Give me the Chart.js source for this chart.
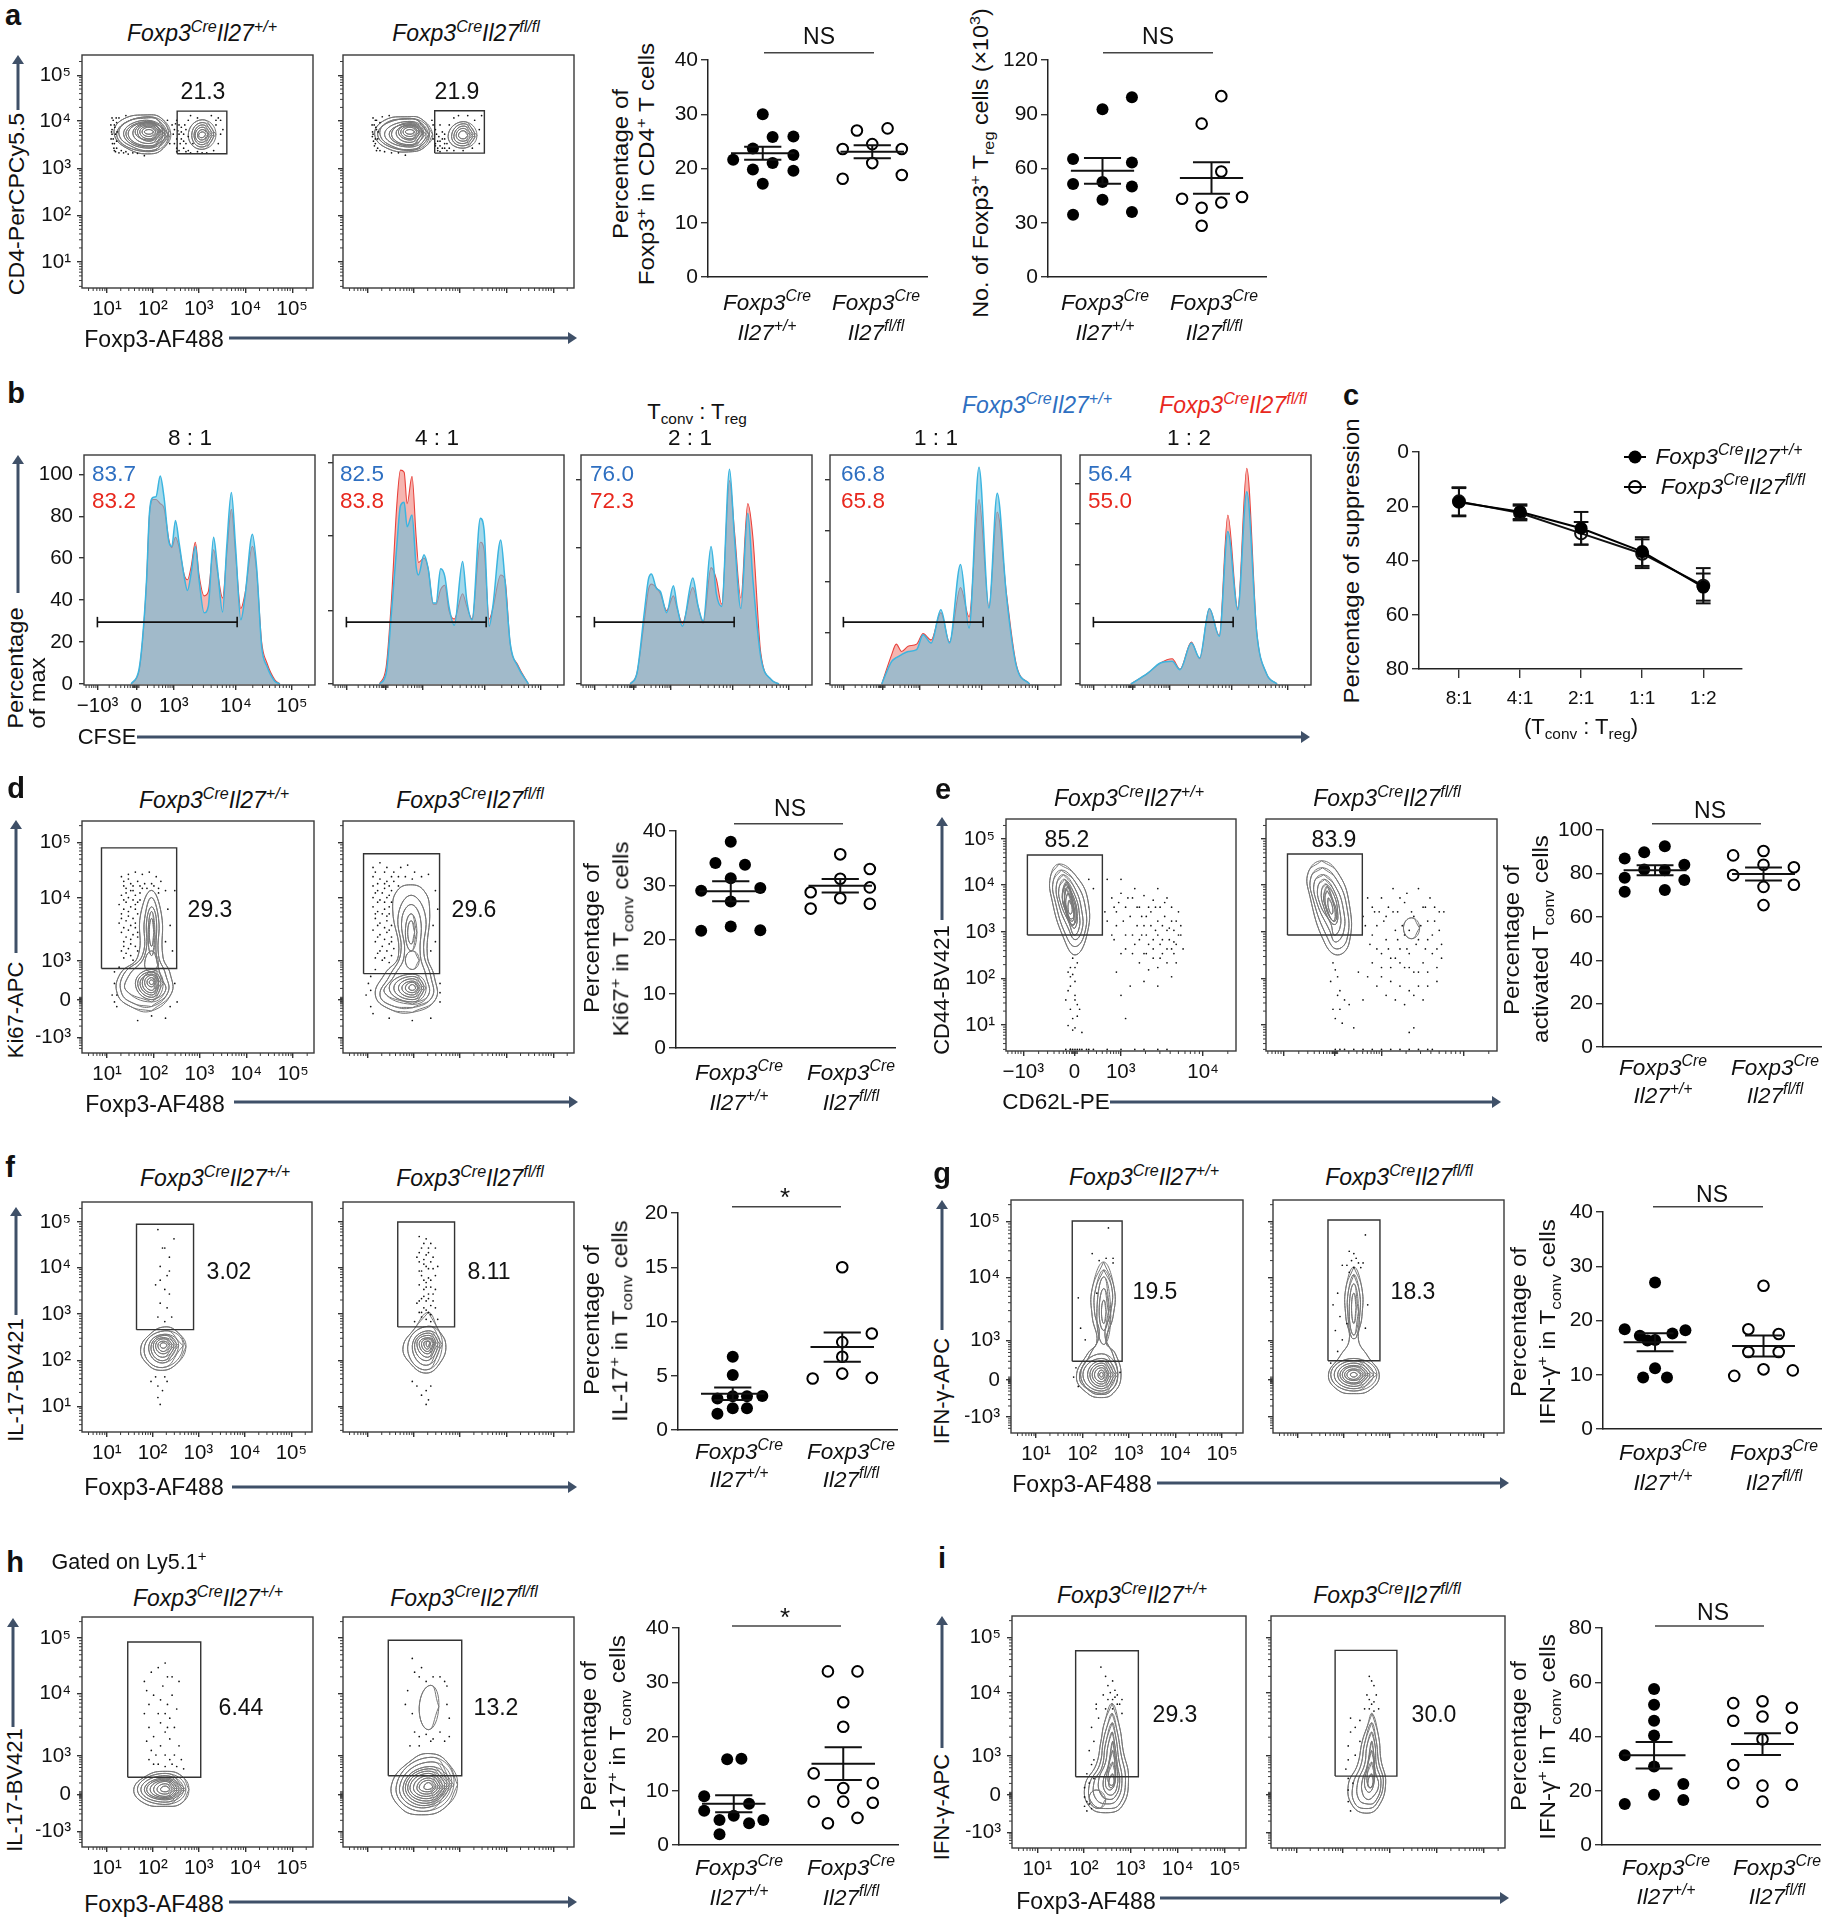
<!DOCTYPE html>
<html>
<head>
<meta charset="utf-8">
<script src="https://cdn.jsdelivr.net/npm/chart.js@4"></script>
<style>
html,body{margin:0;background:#fff}
#page{position:relative;width:1827px;height:1920px;overflow:hidden;font-family:"Liberation Sans",Arial,sans-serif;color:#111}
canvas{position:absolute}
svg{position:absolute;left:0;top:0}
.t{position:absolute;white-space:nowrap;line-height:1}
sup,sub{font-size:.7em;line-height:0}
</style>
</head>
<body>
<div id="page"></div>
<script>
// ---- axis channels (flow plots are read in display channels 0-100)
const xLogCh = [10.8,30.7,50.6,70.8,91]
const xLogLab = ['10¹','10²','10³','10⁴','10⁵']
const yLogCh = [11.2,31.2,51.3,71.6,91.3]
const yLogLab = ['10¹','10²','10³','10⁴','10⁵']
const yBiexCh = [6.8,22.8,39.6,66.8,90.8]
const yBiexLab = ['−10³','0','10³','10⁴','10⁵']
const xCd62Ch = [7.5,29.8,49.9,85.7]
const xCd62Lab = ['−10³','0','10³','10⁴']
const xCfseCh = [5.9,22.6,38.9,65.8,90]
const xCfseLab = ['−10³','0','10³','10⁴','10⁵']
const minorSteps = [6,9.5,12,14,15.6,16.9,18,19.1]

// ---- a
const aPctTicks = [0,10,20,30,40]
const aPctWtY = [30,25.8,25.9,23.7,22.5,21.6,21,19.8,19.6,17.2]
const aPctWtX = [0,.09,.28,-.09,.28,-.27,.09,-.09,.28,0]
const aPctKoY = [27,27.4,23.6,24.5,23.6,21,18.8,18.1]
const aPctKoX = [-.14,.14,-.27,0,.27,0,.27,-.27]
const aPctMean = [22.8,23.1]
const aPctSem = [1.2,1.2]
const aNumTicks = [0,30,60,90,120]
const aNumWtY = [99.4,92.8,65.2,63.3,51.4,52.5,50,42.7,34.4,35.9]
const aNumWtX = [.27,0,-.27,.27,-.27,0,.27,0,-.27,.27]
const aNumKoY = [100,84.8,58.3,43.3,44.2,41.2,38.3,28.3]
const aNumKoX = [.09,-.09,.09,-.27,.28,.09,-.09,-.09]
const aNumMean = [58.7,54.8]
const aNumSem = [7.1,8.7]
const a1Gate = [41.2,62.7,57.6,75.9]
const a2Gate = [39.7,61.2,57.9,76.1]
const a1Rings = [
 [38.4,66.4,34.3,72.9,28.5,74.3,17.7,72.4,13.9,66.4,19.4,60,30.1,57.6,35.9,60.7],
 [37,66,33,72,28,73,19,71,16,66,21,61,30,59,35,62],
 [36,66,28,72,18,66,29,60],[36,66,28,71,20,66,29,61],[35,67,29,71,22,66.5,29,62],[34,67,29,70,24,67,29,63],
 [33,67,29,69.5,25,67,29,64],[32,67,29,69,26,67,29,65],[31,67,29,68,27,67,29,66],
 [37.5,66,29,73.5,15,66,29,58.5],[35,66.5,28.5,71.5,19,66,29.5,60.5],[33.5,67,29,70.5,23,67,29,63.5],
 [58,66,52,72.2,46,65.5,52,59.5],[57,66,52,71,47.5,65.5,52,60.5],[56,66,52,70,48.5,65.5,52,61.5],
 [55,66,52,69,49,65.5,52,62.5],[54.5,66,52,68,50,65.5,52,63.5],[53.5,66,52,67,50.5,65.5,52,64.5]
]
const a2Rings = [
 [38.8,66,34,72.5,28,73.5,18,72,13.7,66,19,60,30,58.5,36,61],
 [37,66,33,71.5,28,72.5,19,71,16,66,21,61,30,59.5,35,62],
 [36,66,29,71.5,18,66,29,60.5],[35,66.5,29,71,21,66,29,61.5],[34,67,29,70,23,66.5,29,62.5],
 [33,67,29,69.5,25,67,29,64],[32,67,29,69,26,67,29,65],[31,67,29,68,27,67,29,66],
 [37.5,66,29,72.8,15,66,29,59],[34.5,66.5,29,70.5,20,66,29,61],[33,67,29,70,24,67,29,63.5],
 [58,65.5,52,71.4,45.5,65,52,60],[57,65.5,52,70.5,47,65,52,61],[56,65.5,52,69.5,48,65,52,62],
 [55,65.5,52,68.5,49,65.5,52,63],[54,65.5,52,67.5,50,65.5,52,64]
]
const a1Dots = [13.5,72,14,70,13,68,14.5,66,13.5,64,14,62,15,60,14,59,16,58,18,58,20,57.5,22,58,13,66,15,71,16,73,19,74,39,70,40,68,39.5,66,41,64,40,62,41,60,42,70,43,67,44,63,45,68,44,60,46,72,47,74,48,62,45,58.5,50,73,56,74,58,70,60,66,59,62,57,59,54,58,60,72,38,62,37,72,13,73,12.5,70,12.8,67,13.2,62,12.6,64,13.8,60,14.5,58.5,15,63,14.2,69,15.2,67,14.8,73,17,59,19,58.5,24,57.8,27,56.8,41,72,42,66,42.5,62,43,69,44,66,45,62,42,59,46,65,40.5,70.5,41.5,67.5,43,64,44.5,70,46,59,47,58,50,58.5,52,58,58,72,59,73,61,68,41,58.5]
const a2Dots = [14,72,13.5,70,14.5,68,13,66,14,64,14,62,15,60,16,59,18,58.5,21,58,14.5,72,17,73.5,20,74,38.5,72,39,70,40,68,39,64,40,62,41,60,42,58.5,42,70,43,67,41.5,65,44,62,43,60,45,59,44,64,46,70,48,73,50,74,54,74,57,72,59,68,59,62,56,60,52,59,48,59,60,74,46,60,13,73,12.6,70,12.8,67,13.2,63,12.7,65,13.6,61,14.5,59,15,64,14.2,69,15.2,67,16,71,24,58,27,57,40.5,66,41,63,42,61,43,64,44,66,42,63,40,61,41,59,44,60,45,62]

// ---- b
const b1X = [20.4,23.8,25.3,27.1,28.3,29.9,31.2,33,34.6,36.7,38,39.6,41.2,43.4,44.8,46.4,48.2,49.8,52,53.8,56.1,57.7,60,61.8,63.8,65.6,67.9,69.7,72.9,74.7,76.9,79.2,82.6,84.8]
const b1Blue = [0,6.8,21,50,81,89,89.4,99.2,89.4,68,65.6,78,67,51,44.6,53,65.6,49.7,34,37,70,56,34.3,65.6,91.3,65.6,30.6,41.7,71.4,56,18,8.4,1.3,0]
const b1Red = [0,6,20,49,80,88,88,86,84,69,65,70,65,52,49.7,56,67.6,52,42,44,64,54,41,62,83.3,62,36,43,65.6,54,20,10,2,0]
const b2X = [20.1,23,25.3,27.6,29.2,30.8,32.1,34.2,36,37,39.4,41.2,43.4,44.6,46.6,48.4,50.2,52.5,56.1,57.9,60.2,63.8,65.4,67.6,69.2,72.6,74.4,76.7,80,84.6]
const b2Blue = [0,5,34,65.6,85,86.7,75,80.6,56,52,61.6,55,38.6,38.6,55,51.3,37,28,58.4,40,30.6,79,73.5,27.5,37,68.7,50,19.5,8.4,0]
const b2Red = [0,8,40,85,102,101,86,99,70,58,60,55,38,38,45,47,35,31,43,37,31,67.6,64,31,36,52,50,19,9,0]
const b3X = [21.3,24.2,27.4,29.2,30.5,32.6,34.4,37.1,40,41.6,43.9,48.4,50.7,52.9,56.3,58.6,60.9,64.3,66.5,69.2,72.2,74.4,77.8,82.4,85.7]
const b3Blue = [0,5,34,50,52.5,45.7,44,34,46.8,37,27.5,50.5,37,30,65.6,43,37,102.4,68.7,36,81.4,50,13,2,0]
const b3Red = [0,5,30,45,47.6,46,43,35,42,36,29,46,37,29,55.5,50,38,97,72,41,86,70,15,2,0]
const b4X = [22.4,26.7,28.7,31,33.8,37.5,40.3,43.8,48,51.7,56.5,60.2,64.5,68.8,72.4,76.4,80.7,86.4]
const b4Blue = [0,10.8,12.5,14,15.5,16.4,23.5,19.5,35.4,19.5,57,26.7,103.3,36.2,91,41.7,8.4,0]
const b4Red = [0,14,19,15.5,18,19,24,21,34,20,46,32,88,37,82,43,9,0]
const b5X = [22,29.2,34.8,39.9,43.3,48.2,51.8,56,60.3,64,68.3,72.2,76.5,80.7,85.3]
const b5Blue = [0,5,10,10.8,6.8,19.5,12.4,36,22.7,72.7,35.4,91.7,24.3,5,0]
const b5Red = [0,5,10,12,7,20,12,36,23,80.6,36,102.8,25,5,0]
const b1Ticks = [0,20,40,60,80,100]
const b2Ticks = [0,35,70.6,105.6]
const b3Ticks = [0,32,65,97.3]
const b4Ticks = [0,24.6,48.7,73,97.6]
const b5Ticks = [0,19,38.3,57,76.3,95.4]
const bGate = [5.8,66.3,29.5]

// ---- c
const cLabels = ['8:1','4:1','2:1','1:1','1:2']
const cTicks = [0,20,40,60,80]
const cWtY = [18.5,22,28.1,36.7,49.8]
const cWtSem = [5.2,2.7,6,5.3,5]
const cKoY = [18.2,22.5,30,37.5,49.3]
const cKoSem = [5.2,2.7,4.2,5.3,6.5]

// ---- d
const dTicks = [0,10,20,30,40]
const dWtY = [38,34.1,33.8,31.3,29,29.5,27,22.4,21.6,21.7]
const dWtX = [0,-.14,.13,0,-.27,.27,0,0,-.27,.27]
const dKoY = [35.7,33,31.2,29.6,28.7,27.6,26.6,25.7]
const dKoX = [0,.27,0,.27,-.27,0,.27,-.27]
const dMean = [28.9,29.9]
const dSem = [1.85,1.25]
const d1Gate = [8.4,40.8,36.4,88.4]
const d2Gate = [8.9,41.8,34.2,85.9]
const d1Rings = [
 [29.9,18.1,38.5,25.6,38,34.2,34.9,41.4,34.2,60,29.9,70.1,25.3,60,24,41.4,16.5,34.2,15.2,25.6,21,20],
 [29.9,20,37,26,36,34,33,42,33,58,29.9,67,27,58,26,42,18,34,17,26,22,21.5],
 [30,22,36,27,34,33,32,42,32,58,30,63,28,58,27,42,20,33,19,27],
 [31.5,50,30,61,28.5,50,30,42],[31,52,30,58,29,52,30,46],[33,38,30,44,27,38,30,35],
 [35,30,30,36,23,30,30,23],[34,30,30,35,24,30,30,24],[33,30,30,34,25,30,30,25],[33,30.5,30,35,26,30,30,26],
 [32,30.5,30,33.5,27,30.5,30,27],[31.5,30.5,30,32.5,28,30.5,30,28.5],[31,30.5,30,31.5,29,30.5,30,29.5]
]
const d2Rings = [
 [30,17.5,40,23,39.5,33,36.5,42,37.5,62,35,70,29.3,72.5,23.5,70,21.5,62,24,42,18,34,14,25,20,19],
 [30,19.5,38.5,24,38,33,35,43,35.5,60,29.5,68,24,60,25,43,20,33,16,25,21,20.5],
 [30,21,37,25,36,33,33.5,42,33.5,58,29.5,64,25.5,58,26.5,42,22,33,18,26],
 [32,52,29.5,60,27,52,29.5,44],[31,52,29.5,57,28,52,29.5,47],[33,40,30,44,27,40,30,36],
 [36,28,30,34,20,28,30,22],[35,28,30,33,22,28,30,23],[34,28,30,32,24,28,30,24],[33,28,30,31,25.5,28,30,25],
 [32.5,28,30,30.5,27,28,30,26],[31.5,28,30,29.5,28.5,28,30,27]
]
const d1Dots = [17,76,20,77,23,78,26,77,29,78,32,76,34,74,18,72,21,73,24,74,27,73,31,72,33,71,36,70,17,68,19,69,22,70,25,69,16,64,19,65,22,66,24,65,17,60,20,61,23,62,16,56,19,57,22,58,17,52,20,53,23,54,18,48,21,49,24,50,17,44,20,45,23,46,18,41,21,42,37,62,38,55,36,48,40,70,39,44,14,30,13,25,15,20,24,14,30,16,36,15,41,22,40,30,18,74,20,75,22,72,25,72,28,71,30,73,33,69,19,71,21,70,23,68,26,71,18,66,20,67,23,64,25,66,18,62,21,63,24,60,17,58,20,59,23,56,18,54,21,55,24,52,19,50,22,51,18,46,21,47,24,44,19,43,22,40,15,25,14,35,16,37,14,22,38,20]
const d2Dots = [13,80,16,82,19,80,22,78,25,80,28,81,31,78,34,76,37,77,13,76,16,75,19,74,22,74,24,72,13,72,15,70,18,71,21,70,13,67,16,66,19,67,21,65,13,63,15,61,18,62,20,60,14,58,16,56,19,57,21,55,13,53,16,51,19,52,21,50,14,48,17,46,20,47,22,45,15,43,18,41,21,42,40,70,41,62,39,55,40,48,38,44,11,30,10,25,12,20,20,15,30,14,38,15,42,22,42,30,14,78,18,78,21,76,24,76,27,76,30,75,15,73,18,73,20,72,14,69,17,69,20,68,15,65,18,65,20,63,14,60,17,60,19,59,15,55,18,54,20,53,15,50,18,49,21,48,16,44,19,44,14,41,17,40,20,39,12,27,12,33,14,36,13,17,42,26]

// ---- e
const eTicks = [0,20,40,60,80,100]
const eWtY = [92.5,89.7,86.9,84,81.8,81.5,78,77,72.3,71.5]
const eWtX = [.09,-.1,-.28,.27,-.1,.09,-.28,.27,.09,-.28]
const eKoY = [90.3,88.3,82.8,84,79.2,73.8,74.8,65.4]
const eKoX = [0,-.28,.28,0,-.28,0,.28,0]
const eMean = [81.5,79.7]
const eSem = [2.3,3]
const e1Gate = [9.3,41.9,50,84.5]
const e2Gate = [9.3,41.7,50,84.9]
const e1Rings = [
 [23,80.6,30,76,35.6,65,35,49.3,30,41.4,24.8,49.3,20,65,19.3,75],
 [24,78,30,73,34.5,62,34,50,30,45,26,50,21.5,64,20.5,73],
 [25,76,30,70,33,60,33,52,30,48,27,53,23,63,22,72],
 [25.5,74,30,67,32,58,31.5,52,29.5,50,27.5,55,24,63,23,70],
 [26,72,29.5,66,31,58,30,53,28.5,54,26,60,24.5,66],
 [26,70,29,64,30,57,29,54,27,58,25.5,64],
 [27,68,29,62,29.5,58,28,57,26.5,61,26,65],
 [27.5,65,28.8,61,28,59,27,61],
 [26.5,73,29,66,30.5,60,30,55,28,55,25.5,62,24.5,68],
 [27,71,28.8,65,29.5,60,29,56,27.5,57,26,62,25.5,67]
]
const e2Rings = [
 [24.1,82,31,77,36,63.7,36,46.6,31,41.4,25.4,46.6,19,66.7,18.3,77],
 [24.5,79,30.5,74,35,62,35,48,30.5,44,26.5,49,20.5,65,19.5,75],
 [25,76,30,71,33.5,61,33.5,51,30,47,27.5,52,22,64,21,73],
 [25.5,74,29.5,69,32,60,32,53,29.5,50,28,55,23.5,63,22.5,71],
 [26,72,29.5,67,31,60,30.5,55,28.5,55,25,62,24,69],
 [26.5,69,29,64,30,58,29,56,26.5,61,25.5,66],
 [27,66,28.8,62,28.5,59,27,62],
 [26.5,71,29,65,30.5,60,30,56,28,57,25.5,63,25,67],
 [66.5,53,63,57.4,59.5,53,63,48.4]
]
const e1Dots = [46,66,48,60,50,68,52,62,54,58,55,66,56,70,57,54,58,62,59,50,60,67,61,58,62,46,63,60,64,65,65,52,66,70,66,56,67,62,68,48,69,58,70,66,71,53,72,62,73,47,74,56,75,60,76,50,77,44,72,44,68,42,64,40,60,42,56,46,52,50,48,54,47,48,58,38,62,35,66,36,70,38,74,38,66,28,60,30,54,28,50,24,48,34,72,32,44,74,50,74,38,70,36,74,28,36,29,33,30,30,31,38,27,34,28,28,30,24,31,20,28,18,29,14,27,11,52,14,30,10,33,8,26,.7,28,.7,29,.7,31,.7,33,.7,38,.7,44,.7,50,.7,56,.7,60,.7,66,.7,70,.7,47,62,49,64,51,56,53,66,55,50,57,62,59,58,60,54,61,50,62,62,63,54,64,48,65,62,66,50,67,46,68,54,69,64,70,52,71,48,72,56,73,52,74,46,75,50,76,54,52,44,55,42,58,48,61,42,64,44,67,40,70,44,73,42,50,42,46,50,44,56,43,60,29,40,30,36,28,32,27,26,26,22,32,18,30,22,31,15,29,9,28,.7,30,.7,32,.7,35,.7,36,.7]
const e2Dots = [42,58,44,66,46,50,47,60,48,44,50,66,51,56,52,48,53,62,54,40,55,70,56,52,57,60,58,44,58,66,60,36,60,50,61,68,62,42,63,60,64,34,65,46,66,70,67,54,68,38,69,62,70,48,71,66,72,42,73,56,74,36,75,52,76,46,77,60,54,30,58,28,62,26,66,28,50,32,46,38,70,28,74,30,29,38,30,35,31,32,28,30,32,26,34,22,42,22,29,18,30,14,36,20,38,10,64,10,62,8,30,.7,32,.7,34,.7,38,.7,42,.7,46,.7,50,.7,54,.7,58,.7,62,.7,66,.7,70,.7,72,.7,43,54,45,46,46,62,48,54,49,60,50,42,52,58,53,44,55,60,56,40,57,48,59,54,60,64,61,44,62,52,64,58,66,48,68,62,69,44,70,56,72,50,73,62,74,44,75,60,76,40,50,36,54,36,58,38,62,36,66,34,70,34,40,34,44,32,48,28,52,24,56,22,60,20,64,24,68,22,31,24,32,18,33,12]

// ---- f
const fTicks = [0,5,10,15,20]
const fWtY = [6.75,5.06,3.13,3.1,2.9,3.1,2,2,1.5]
const fWtX = [0,0,.27,.13,-.14,0,0,.13,-.14]
const fKoY = [15,8.9,8.1,6.75,4.75,5.2,4.8]
const fKoX = [0,.27,0,0,-.27,0,.27]
const fMean = [3.34,7.64]
const fSem = [.57,1.35]
const f1Gate = [23.7,48.5,44.5,90.3]
const f2Gate = [23.7,48.3,45.7,91.3]
const f1Rings = [
 [45.2,37,42,43,36,45.7,29,42,25.5,36,28,30,34,26.8,41,29.5],
 [44,37.5,36,44,27,36,35,28],[42,37.5,36,42.5,29,37,35,30],[41,37.5,36,42,30,37,35,31],[40,37.5,35.5,41,31,37.5,35,32.5],
 [39,37.5,35.5,40.5,32,37.5,35.3,34],[38,37.7,35.4,39.5,33,37.7,35.3,35],[37,37.7,35.3,38.8,34,37.7,35.3,36.4]
]
const f2Rings = [
 [36.9,52,41,45,44.5,38,42,30,36,25.6,29,30,26,37,31,45],
 [43,38,37,46,28,37,36,27],[42,38,37,44,30,37.5,36,29],[41,38,37,43,31,38,36,31],[40,38.5,37,42,32,38.5,36.5,32.5],
 [39.5,38.5,37,41,33,38.5,36.5,34],[39,38.5,37,40.5,34,38.5,36.5,35],[38,38.7,37,39.5,35,38.7,36.5,36],[37.5,38.7,36.8,39.5,36,38.7,36.6,37]
]
const f1Dots = [33,88,40,84,36,80,38,76,34,72,37,68,32,64,36,62,38,60,34,56,37,54,33,50,36,48,39,50,35,80,34,66,38,70,30,22,33,20,35,18,33,15,34,12,32,24,36,24,37,22]
const f2Dots = [33,85,36,84,38,82,34,80,37,78,40,80,32,76,35,75,38,74,36,72,33,70,39,71,41,72,34,68,37,67,40,68,36,65,33,64,38,63,35,62,37,60,34,58,39,60,36,57,32,56,38,55,35,54,37,52,33,52,40,54,34,50,36,49,38,48,31,48,41,49,32,20,30,22,34,16,36,18,37,14,38,20,36,12,35,82,37,80,33,78,36,77,39,76,35,73,37,71,34,70,38,66,35,66,36,63,37,58,35,59,33,57,36,53,38,51,34,52,39,57,40,62,33,74]

// ---- g
const gTicks = [0,10,20,30,40]
const gWtY = [27,18.4,18.2,17.2,17.6,16.4,16.3,11.2,9.5,9.5]
const gWtX = [0,-.28,.28,-.14,.16,0,-.07,0,-.11,.11]
const gKoY = [26.4,18.4,17.5,14.2,14.2,11,9.8,10.8]
const gKoX = [0,-.14,.14,-.14,.14,0,-.27,.27]
const gMean = [16,15.3]
const gSem = [1.65,1.95]
const g1Gate = [26.4,47.9,30.8,91]
const g2Gate = [23.8,46.3,31,91.4]
const g1Rings = [
 [39.9,73.4,44.5,62,44,50,41,39,45,34,47.4,24,44,17,39,15.2,33,17,28.2,24,33,34,37,39,35,50,35,62],
 [40,70,43.5,62,43,52,40.5,42,44,33.5,46,24,43,18,39,16.5,34,18,29.5,24,34,33.5,38,42,36,52,36.5,62],
 [43,50,40,67,37,50,40,38],[42,52,40,62,38,52,40,44],[41,52,40,57,39,52,40,47],
 [46,25,39,34,30,25,39,17],[45,25,39,32,31,25,39,18],[44,25,39,31,33,25,39,19],[43,25,39,30,34,25,39,20],
 [42,25,39,29,35,25,39,21],[41.5,25,39,28,36,25,39,22],[40.5,25,39,27,37.5,25,39,23],[39.8,25,39,26,38.2,25,39,24]
]
const g2Rings = [
 [35,71.3,38.5,62,38.5,50,37,40,41,33,46,25,42,18.5,35,16.9,28,18.5,24,25,29,33,33,40,31.5,50,31.5,62],
 [35,68,37.5,60,37.5,50,36,41,34,41,32.5,50,32.5,60],
 [37,52,35,64,33,52,35,42],[36,54,35,60,34,54,35,47],
 [45,25,35,32,25,25,35,18],[43.5,25,35,31,26.5,25,35,19],[42,25,35,30,28,25,35,20],[41,25,35,29,29,25,35,21],
 [40,25,35,28.5,30,25,35,21.5],[39,25,35,27.5,31,25,35,22.5],[38,25,35,27,32,25,35,23],[36.5,25,35,26,33.5,25,35,24]
]
const g1Dots = [42,88,35,77,41,75,38,74,44,75,29,58,30,45,32,40,28,28,27,24,29,20,44,73,37,60,47,26]
const g2Dots = [40,85,33,78,35,77,36,75,34,74,37,73,32,72,35,71,38,71,30,72,39,73,33,69,28,60,26,55,29,50,27,44,30,40,40,45,41,55,28,35,25,30,32,47]

// ---- h
const hTicks = [0,10,20,30,40]
const hWtY = [15.8,15.9,9,6.3,7.6,5.4,4.6,4.6,4,2]
const hWtX = [-.06,.07,-.27,-.27,.14,0,-.13,.27,.14,-.13]
const hKoY = [32,32,26.3,21.8,13.2,11.4,10.5,8,8,7.8,5,4]
const hKoX = [-.14,.13,0,0,-.27,.27,0,-.27,0,.27,.13,-.14]
const hMean = [7.6,15]
const hSem = [1.55,3]
const h1Gate = [19.8,51.4,30.3,89.1]
const h2Gate = [19.6,51.4,31,89.9]
const h1Rings = [
 [46.3,25,43,31,36,32.9,28,31,22.4,25,27,19,36,17.7,43,19],
 [45,25,36,32,24,25,36,18.5],[44,25,36,31,25.5,25,36,19.5],[43,25,36,30,27,25,36,20.5],[42,25,36,29.5,28,25,36,21],
 [41,25,36,29,29.5,25,36,21.5],[40,25,36,28.5,31,25,36,22],[39,25,36,27.5,32.5,25,36,23],[38,25,36,26.5,34,25,36,24]
]
const h2Rings = [
 [49.6,27,45,37,38,40.6,30,38,21,27,25,17,34,14,44,17],
 [48,27,38,39,23,26,35,15.5],[47,27,38,37,24.5,26,35,17],[46,27,37.5,35,26,26,35.5,18],[45,27,37,34,27,26,36,19],
 [44,26,37,33,28,26,36,20],[43,26,37,32,29,26,36,21],[42,26,37,31,30.5,26,36,22],[41,26,37,30,32,26,36,23],
 [40,26,37,29,33,26,36.5,24],[39,26,37,28,35,26,36.5,25],[41.5,61,38,70.3,33,61,37,51]
]
const h1Dots = [27,72,28,68,30,76,33,78,36,80,37,74,39,74,42,72,29,62,31,66,33,58,35,70,37,62,38,56,41,60,27,58,29,52,31,48,34,54,36,50,38,47,40,52,42,44,28,46,30,42,32,40,34,44,36,40,38,38,40,40,43,38,29,38,31,36,33,36,36,35,39,36,41,35,44,34,36,58,34,64,39,66,37,52]
const h2Dots = [30,82,31,76,33,74,34,78,36,72,39,74,42,74,44,72,45,70,28,68,27,62,30,58,45,62,46,56,31,50,33,48,36,49,39,47,42,50,44,46,46,48,29,44,33,44,38,46]

// ---- i
const iTicks = [0,20,40,60,80]
const iWtY = [57.5,51.7,45.8,40.4,33.1,28.9,22.5,18.5,16.6,15.1]
const iWtX = [0,0,0,0,-.27,0,.27,0,.27,-.27]
const iKoY = [52.3,53,50.6,45.8,47.4,43.2,39,29.5,22.8,21.9,22.2,16]
const iKoX = [-.27,0,.27,-.27,0,.27,0,-.27,-.27,0,.27,0]
const iMean = [33.1,37.2]
const iSem = [4.9,4]
const i1Gate = [27.2,54,30.7,85]
const i2Gate = [27.4,53.8,31,85.2]
const i1Rings = [
 [42.8,62.3,46,52,47.5,42,49.8,30,47,18,40,15.2,33,18,31.2,27,36,36,38,46,39.5,54],
 [42.8,58,45,50,46.5,41,48.5,29,46,19,41,17,34.5,19,33,27,37.5,36,39,46,40.5,52],
 [42.8,54,44.5,47,45.5,39,47,29,45,21,41,19,36,21,35,28,38.5,35,40,45],
 [42.8,50,44,44,45,36,46,28,44,22,41,21,38,23,37,29,40,37,41,44],
 [43,46,44,40,45,33,45,27,43,23,40,24,39,29,41,35],
 [43,42,44,36,44,28,42,25,40,27,41,34],[43,37,44,30,42.5,27,41,30],[43,32,43.5,27.5,42,26,41.5,29],
 [40,21,36,25,33,21,37,17]
]
const i2Rings = [
 [43.2,58,46,48,47,38,49,28,46,18,41,15,35,18,33,27,37,36,39,46,41,52],
 [43,54,45,46,46,37,48,28,45,19,41,17,36,19,35,27,38.5,36,40,45],
 [43,50,44.5,44,45,36,47,28,44.5,20,41,19,37.5,21,37,28,40,36,41,44],
 [43,46,44,40,44.5,33,46,27,43.5,22,41,21,39,24,39,29,41,35],
 [43,42,44,36,44,28,42,24,40,27,41,34],[43,37,44,30,42.5,26,41,30],[43,32,43.5,27.5,42,26,41.5,29]
]
const i1Dots = [38,78,40,74,41,70,43,72,44,68,45,66,39,66,41,64,43,64,45,62,47,64,36,60,37,56,34,52,35,46,33,42,34,36,32,32,31,26,31,22,31,18,32,16,33,28,35,30,40,60,42,67,43,60,44,65,46,62,47,58,35,38,36,62,32,20,33,19,34,17]
const i2Dots = [42,74,43,72,44,70,41,66,42,64,43,62,44,63,45,66,40,60,46,60,38,55,36,52,34,50,33,44,33,38,32,34,33,30,33,25,33,20,34,16,35,28,36,40,42,60,44,59,34,56,38,46]

// ---- helpers
Chart.defaults.font.family = '"Liberation Sans",Arial,sans-serif'
Chart.defaults.color = '#111'
Chart.defaults.animation = false

const page = document.getElementById('page')
const NAVY = '#3f5068'
let svgBits = ''

function pairs(flat) {
    let out = []
    for (let i = 0; i < flat.length; i += 2) out.push({x: flat[i], y: flat[i + 1]})
    return out
}

function zip(xs, ys) {
    return xs.map((x, i) => ({x: x, y: ys[i]}))
}

function txt(x, y, html, size, opt) {
    opt = opt || {}
    const d = document.createElement('div')
    d.className = 't'
    d.innerHTML = html
    d.style.left = x + 'px'
    d.style.top = y + 'px'
    d.style.fontSize = size + 'px'
    d.style.transform = 'translate(-50%,-50%)' + (opt.rot ? ' rotate(-90deg)' : '') + (opt.sx ? ` scaleX(${opt.sx})` : '')
    if (opt.color) d.style.color = opt.color
    if (opt.bold) d.style.fontWeight = 'bold'
    page.appendChild(d)
}

function arrow(x1, y1, x2, y2) {
    const h = 9, w = 6
    if (y1 == y2) {
        svgBits += `<line x1="${x1}" y1="${y1}" x2="${x2 - h}" y2="${y2}" stroke="${NAVY}" stroke-width="3"/>`
        svgBits += `<polygon points="${x2},${y2} ${x2 - h},${y2 - w} ${x2 - h},${y2 + w}" fill="${NAVY}"/>`
    } else {
        svgBits += `<line x1="${x1}" y1="${y1}" x2="${x2}" y2="${y2 + h}" stroke="${NAVY}" stroke-width="3"/>`
        svgBits += `<polygon points="${x2},${y2} ${x2 - w},${y2 + h} ${x2 + w},${y2 + h}" fill="${NAVY}"/>`
    }
}

function sigLine(x1, x2, y) {
    svgBits += `<line x1="${x1}" y1="${y}" x2="${x2}" y2="${y}" stroke="#444" stroke-width="1.6"/>`
}

function newCanvas(box, m) {
    const c = document.createElement('canvas')
    c.width = box[2] - box[0] + m.l + m.r
    c.height = box[3] - box[1] + m.t + m.b
    c.style.left = (box[0] - m.l) + 'px'
    c.style.top = (box[1] - m.t) + 'px'
    page.appendChild(c)
    return c
}

function minorsOf(ch) {
    let out = []
    for (let i = -1; i < ch.length; i++) {
        const a = i < 0 ? ch[0] - (ch[1] - ch[0]) : ch[i]
        const b = i == ch.length - 1 ? a + (ch[i] - ch[i - 1]) : ch[i + 1]
        minorSteps.forEach(s => out.push(a + (b - a) * s / 20))
    }
    return out.filter(v => v > 0.5 && v < 99.5)
}

// frame of a plot and its minor ticks
const decor = {
    id: 'decor',
    afterDatasetsDraw(chart, args, o) {
        const c = chart.ctx, a = chart.chartArea
        if (!o.frame) return
        c.save()
        c.strokeStyle = '#3a3a3a'
        c.lineWidth = 1.4
        c.strokeRect(a.left, a.top, a.right - a.left, a.bottom - a.top)
        c.lineWidth = 1
        c.beginPath()
        ;(o.xMinor || []).forEach(v => {
            const p = chart.scales.x.getPixelForValue(v)
            c.moveTo(p, a.bottom)
            c.lineTo(p, a.bottom + 3)
        })
        ;(o.yMinor || []).forEach(v => {
            const p = chart.scales.y.getPixelForValue(v)
            c.moveTo(a.left, p)
            c.lineTo(a.left - 3, p)
        })
        c.stroke()
        c.restore()
    }
}
Chart.register(decor)

function fixedAxis(ticks, labels, size, opt) {
    opt = opt || {}
    return {
        type: 'linear',
        reverse: !!opt.reverse,
        min: opt.min,
        max: opt.max,
        afterBuildTicks: s => { s.ticks = ticks.map(v => ({value: v})) },
        afterFit: s => {
            if (opt.w !== undefined) s.width = opt.w
            if (opt.h !== undefined) s.height = opt.h
            // labels may hang over the plot edge, the plot box stays put
            s.paddingTop = s.paddingBottom = s.paddingLeft = s.paddingRight = 0
        },
        border: {display: !!opt.line, color: '#222', width: 1.5},
        grid: {display: !opt.noTicks, drawOnChartArea: false, tickLength: opt.len || 5, color: '#333', lineWidth: 1.4},
        ticks: {
            display: !!labels,
            autoSkip: false,
            maxRotation: 0,
            minRotation: 0,
            padding: opt.pad === undefined ? 4 : opt.pad,
            font: {size: size},
            color: '#111',
            callback: (v, i) => labels ? labels[i] : ''
        }
    }
}

function baseOptions(m, x, y, plug) {
    return {
        responsive: false,
        animation: false,
        devicePixelRatio: 1,
        events: [],
        layout: {autoPadding: false, padding: {top: m.t, right: m.r, left: 0, bottom: 0}},
        plugins: {legend: {display: false}, tooltip: {enabled: false}, decor: plug || {}},
        scales: {x: x, y: y}
    }
}

function flow(box, rings, gate, dots, xAxis, yAxis, showLabels) {
    const m = {l: 46, t: 6, r: 6, b: 42}
    let sets = [{
        data: [{x: gate[0], y: gate[2]}, {x: gate[1], y: gate[2]}, {x: gate[1], y: gate[3]}, {x: gate[0], y: gate[3]}, {x: gate[0], y: gate[2]}],
        borderColor: '#333', borderWidth: 1.4, tension: 0, pointRadius: 0, fill: false
    }]
    sets.push({data: pairs(dots), showLine: false, pointRadius: 0.85, pointBackgroundColor: '#111', pointBorderWidth: 0})
    rings.forEach(r => {
        const p = pairs(r)
        sets.push({data: p.concat(p, [p[0]]), borderColor: '#777', borderWidth: 1, tension: p.length < 6 ? 0.55 : 0.45, pointRadius: 0, fill: false})
    })
    const x = fixedAxis(xAxis.ch, showLabels ? xAxis.lab : null, 20.5, {min: 0, max: 100, h: m.b})
    const y = fixedAxis(yAxis.ch, showLabels ? yAxis.lab : null, 20.5, {min: 0, max: 100, w: m.l, pad: 6})
    new Chart(newCanvas(box, m), {
        type: 'line',
        data: {datasets: sets},
        options: baseOptions(m, x, y, {
            frame: true,
            xMinor: minorsOf(xAxis.ch).concat(xAxis.zero || []),
            yMinor: minorsOf(yAxis.ch).concat(yAxis.zero || [])
        })
    })
}

function hist(box, xs, blue, red, yTicks, yLabels, showX) {
    const m = {l: 46, t: 6, r: 6, b: 42}
    const capH = 2.5
    // dataset 0 is painted last
    const sets = [
        {data: [{x: bGate[0], y: bGate[2]}, {x: bGate[1], y: bGate[2]}], borderColor: '#111', borderWidth: 1.6, pointRadius: 0, fill: false},
        {data: [{x: bGate[0], y: bGate[2] - capH}, {x: bGate[0], y: bGate[2] + capH}], borderColor: '#111', borderWidth: 1.6, pointRadius: 0, fill: false},
        {data: [{x: bGate[1], y: bGate[2] - capH}, {x: bGate[1], y: bGate[2] + capH}], borderColor: '#111', borderWidth: 1.6, pointRadius: 0, fill: false},
        {data: zip(xs, blue), borderColor: '#3bb5e0', borderWidth: 1.5, backgroundColor: 'rgba(105,190,220,.6)', fill: 'origin', cubicInterpolationMode: 'monotone', pointRadius: 0},
        {data: zip(xs, red), borderColor: '#e8423c', borderWidth: 1.1, backgroundColor: 'rgba(235,90,80,.45)', fill: 'origin', cubicInterpolationMode: 'monotone', pointRadius: 0}
    ]
    const x = fixedAxis(xCfseCh, showX ? xCfseLab : null, 20.5, {min: 0, max: 100, h: m.b})
    const y = fixedAxis(yTicks, yLabels, 20.5, {min: -0.5, max: 109.2, w: m.l, pad: 6})
    new Chart(newCanvas(box, m), {
        type: 'line',
        data: {datasets: sets},
        options: baseOptions(m, x, y, {frame: true, xMinor: minorsOf(xCfseCh).concat([21.4, 21.9, 22.2, 23, 23.4, 23.8])})
    })
}

function errorSets(xs, means, sems, mean, cap, width) {
    let out = []
    xs.forEach((gx, i) => {
        const l = {borderColor: '#111', borderWidth: width, pointRadius: 0, fill: false, tension: 0}
        if (mean) out.push(Object.assign({data: [{x: gx - mean, y: means[i]}, {x: gx + mean, y: means[i]}]}, l))
        out.push(Object.assign({data: [{x: gx, y: means[i] - sems[i]}, {x: gx, y: means[i] + sems[i]}]}, l))
        out.push(Object.assign({data: [{x: gx - cap, y: means[i] + sems[i]}, {x: gx + cap, y: means[i] + sems[i]}]}, l))
        out.push(Object.assign({data: [{x: gx - cap, y: means[i] - sems[i]}, {x: gx + cap, y: means[i] - sems[i]}]}, l))
    })
    return out
}

function dotPlot(box, ticks, wtX, wtY, koX, koY, means, sems, xr) {
    const m = {l: 46, t: 16, r: 8, b: 10}
    xr = xr || [.5, 2.5]
    const sets = errorSets([1, 2], means, sems, .29, .17, 2)
    sets.push({data: wtX.map((v, i) => ({x: 1 + v, y: wtY[i]})), showLine: false, pointRadius: 6, pointBackgroundColor: '#000', pointBorderColor: '#000', pointBorderWidth: 0, clip: false})
    sets.push({data: koX.map((v, i) => ({x: 2 + v, y: koY[i]})), showLine: false, pointRadius: 5.3, pointBackgroundColor: 'rgba(0,0,0,0)', pointBorderColor: '#000', pointBorderWidth: 2, clip: false})
    const x = {
        type: 'linear', min: xr[0], max: xr[1],
        afterFit: s => { s.height = m.b },
        border: {display: true, color: '#222', width: 1.5},
        grid: {display: false},
        ticks: {display: false}
    }
    const y = fixedAxis(ticks, ticks.map(String), 21, {min: 0, max: ticks[ticks.length - 1], w: m.l, line: true, len: 7, pad: 3})
    new Chart(newCanvas(box, m), {type: 'line', data: {datasets: sets}, options: baseOptions(m, x, y)})
}

function suppression(box) {
    const m = {l: 46, t: 10, r: 8, b: 48}
    const idx = cLabels.map((s, i) => i)
    const capW = .12
    const sets = [
        {data: zip(idx, cWtY), borderColor: '#000', borderWidth: 2, tension: 0, pointRadius: 6.5, pointBackgroundColor: '#000', pointBorderColor: '#000', pointBorderWidth: 0, fill: false},
        {data: zip(idx, cKoY), borderColor: '#111', borderWidth: 2, tension: 0, pointRadius: 6, pointBackgroundColor: 'rgba(255,255,255,0)', pointBorderColor: '#111', pointBorderWidth: 2, fill: false}
    ].concat(errorSets(idx, cKoY, cKoSem, 0, capW, 2), errorSets(idx, cWtY, cWtSem, 0, capW, 2))
    const x = fixedAxis(idx, cLabels, 19, {min: -0.654, max: 4.634, h: m.b, line: true, len: 9, pad: 9})
    const y = fixedAxis(cTicks, cTicks.map(String), 21, {min: 0, max: 80, reverse: true, w: m.l, line: true, len: 7, pad: 3})
    new Chart(newCanvas(box, m), {type: 'line', data: {datasets: sets}, options: baseOptions(m, x, y)})
}

// ---- strings
const WT = '<i>Foxp3<sup>Cre</sup>Il27<sup>+/+</sup></i>'
const FL = '<i>Foxp3<sup>Cre</sup>Il27<sup>fl/fl</sup></i>'
const TCONV = 'T<sub>conv</sub>'
const TREG = 'T<sub>reg</sub>'
const WIDE = {rot: true, sx: 1.12}

function groupLabels(x1, x2, y1, y2) {
    txt(x1, y1, '<i>Foxp3<sup>Cre</sup></i>', 22.5)
    txt(x1, y2, '<i>Il27<sup>+/+</sup></i>', 22.5)
    txt(x2, y1, '<i>Foxp3<sup>Cre</sup></i>', 22.5)
    txt(x2, y2, '<i>Il27<sup>fl/fl</sup></i>', 22.5)
}

const xLog = {ch: xLogCh, lab: xLogLab}
const yLog = {ch: yLogCh, lab: yLogLab}
const yBiex = {ch: yBiexCh, lab: yBiexLab, zero: [21.6, 22.1, 22.5, 23.1, 23.5, 24]}
const xCd62 = {ch: xCd62Ch, lab: xCd62Lab, zero: [28.6, 29.1, 29.5, 30.1, 30.5, 31]}

// ---- panel a
txt(13, 15, 'a', 29, {bold: true})
txt(202, 33, WT, 23)
txt(466, 33, FL, 23)
flow([82, 55, 313, 288], a1Rings, a1Gate, a1Dots, xLog, yLog, true)
flow([343, 55, 574, 288], a2Rings, a2Gate, a2Dots, xLog, yLog, false)
txt(203, 91, '21.3', 23)
txt(457, 91, '21.9', 23)
txt(17, 204, 'CD4-PerCPCy5.5', 22, {rot: true, sx: 1.05})
arrow(18, 110, 18, 55)
txt(154, 339, 'Foxp3-AF488', 23)
arrow(229, 338, 577, 338)
dotPlot([708, 60, 927, 277], aPctTicks, aPctWtX, aPctWtY, aPctKoX, aPctKoY, aPctMean, aPctSem)
txt(622, 164, 'Percentage of', 21.5, WIDE)
txt(648, 164, 'Foxp3<sup>+</sup> in CD4<sup>+</sup> T cells', 21.5, WIDE)
sigLine(764, 874, 52.7)
txt(819, 36, 'NS', 23)
groupLabels(767, 876, 303, 333)
dotPlot([1048, 60, 1266, 277], aNumTicks, aNumWtX, aNumWtY, aNumKoX, aNumKoY, aNumMean, aNumSem)
txt(982, 163, 'No. of Foxp3<sup>+</sup> ' + TREG + ' cells (×10<sup>3</sup>)', 21.5, {rot: true, sx: 1.08})
sigLine(1103, 1213, 52.7)
txt(1158, 36, 'NS', 23)
groupLabels(1105, 1214, 303, 333)

// ---- panel b
txt(16, 393, 'b', 29, {bold: true})
txt(697, 412, TCONV + ' : ' + TREG, 22)
txt(1037, 405, WT, 23, {color: '#2e6fc1'})
txt(1233, 405, FL, 23, {color: '#e8281e'})
const bCounts = [['83.7', '83.2'], ['82.5', '83.8'], ['76.0', '72.3'], ['66.8', '65.8'], ['56.4', '55.0']]
const bTitles = ['8 : 1', '4 : 1', '2 : 1', '1 : 1', '1 : 2']
hist([84, 455, 315, 685], b1X, b1Blue, b1Red, b1Ticks, b1Ticks.map(String), true)
hist([333, 455, 564, 685], b2X, b2Blue, b2Red, b2Ticks, null, false)
hist([581, 455, 812, 685], b3X, b3Blue, b3Red, b3Ticks, null, false)
hist([830, 455, 1061, 685], b4X, b4Blue, b4Red, b4Ticks, null, false)
hist([1080, 455, 1311, 685], b5X, b5Blue, b5Red, b5Ticks, null, false)
;[[190, 114], [437, 362], [690, 612], [936, 863], [1189, 1110]].forEach((p, i) => {
    txt(p[0], 438, bTitles[i], 22.5)
    txt(p[1], 474, bCounts[i][0], 22.5, {color: '#2e6fc1'})
    txt(p[1], 501, bCounts[i][1], 22.5, {color: '#e8281e'})
})
txt(16, 668, 'Percentage', 22, {rot: true, sx: 1.08})
txt(38, 693, 'of max', 22, {rot: true, sx: 1.08})
arrow(18, 593, 18, 455)
txt(107, 737, 'CFSE', 22)
arrow(137, 737, 1310, 737)

// ---- panel c
txt(1351, 395, 'c', 29, {bold: true})
suppression([1419, 452, 1742, 669])
txt(1352, 561, 'Percentage of suppression', 22.5, {rot: true, sx: 1.065})
txt(1581, 727, '(' + TCONV + ' : ' + TREG + ')', 22)
svgBits += `<line x1="1624" y1="457" x2="1646" y2="457" stroke="#000" stroke-width="2"/><circle cx="1635" cy="457" r="6.5" fill="#000"/>`
svgBits += `<line x1="1624" y1="487" x2="1646" y2="487" stroke="#000" stroke-width="2"/><circle cx="1635" cy="487" r="6" fill="none" stroke="#000" stroke-width="2"/>`
txt(1729, 457, WT, 22.5)
txt(1733, 487, FL, 22.5)

// ---- panel d
txt(16, 788, 'd', 29, {bold: true})
txt(214, 800, WT, 23)
txt(470, 800, FL, 23)
flow([82, 821, 314, 1053], d1Rings, d1Gate, d1Dots, xLog, yBiex, true)
flow([343, 821, 574, 1053], d2Rings, d2Gate, d2Dots, xLog, yBiex, false)
txt(210, 909, '29.3', 23)
txt(474, 909, '29.6', 23)
txt(16, 1010, 'Ki67-APC', 22, {rot: true})
arrow(16, 953, 16, 820)
txt(155, 1104, 'Foxp3-AF488', 23)
arrow(234, 1102, 578, 1102)
dotPlot([676, 831, 895, 1048], dTicks, dWtX, dWtY, dKoX, dKoY, dMean, dSem)
txt(593, 938, 'Percentage of', 21.5, WIDE)
txt(622, 939, 'Ki67<sup>+</sup> in ' + TCONV + ' cells', 21.5, WIDE)
sigLine(734, 843, 823.7)
txt(790, 808, 'NS', 23)
groupLabels(739, 851, 1073, 1103)

// ---- panel e
txt(943, 789, 'e', 29, {bold: true})
txt(1129, 798, WT, 23)
txt(1387, 798, FL, 23)
flow([1006, 819, 1236, 1051], e1Rings, e1Gate, e1Dots, xCd62, yLog, true)
flow([1266, 819, 1497, 1051], e2Rings, e2Gate, e2Dots, xCd62, yLog, false)
txt(1067, 839, '85.2', 23)
txt(1334, 839, '83.9', 23)
txt(942, 990, 'CD44-BV421', 22, {rot: true})
arrow(942, 920, 942, 817)
txt(1056, 1102, 'CD62L-PE', 22.5)
arrow(1110, 1102, 1501, 1102)
dotPlot([1603, 830, 1821, 1047], eTicks, eWtX, eWtY, eKoX, eKoY, eMean, eSem, [.52, 2.53])
txt(1513, 940, 'Percentage of', 21.5, WIDE)
txt(1542, 939, 'activated ' + TCONV + ' cells', 21.5, WIDE)
sigLine(1652, 1761, 823.7)
txt(1710, 810, 'NS', 23)
groupLabels(1663, 1775, 1068, 1096)

// ---- panel f
txt(10, 1167, 'f', 29, {bold: true})
txt(215, 1178, WT, 23)
txt(470, 1178, FL, 23)
flow([82, 1202, 312, 1432], f1Rings, f1Gate, f1Dots, xLog, yLog, true)
flow([343, 1202, 574, 1432], f2Rings, f2Gate, f2Dots, xLog, yLog, false)
txt(229, 1271, '3.02', 23)
txt(489, 1271, '8.11', 23)
txt(16, 1380, 'IL-17-BV421', 22, {rot: true})
arrow(16, 1315, 16, 1207)
txt(154, 1487, 'Foxp3-AF488', 23)
arrow(232, 1487, 577, 1487)
dotPlot([678, 1213, 897, 1430], fTicks, fWtX, fWtY, fKoX, fKoY, fMean, fSem)
txt(593, 1320, 'Percentage of', 21.5, WIDE)
txt(621, 1321, 'IL-17<sup>+</sup> in ' + TCONV + ' cells', 21.5, WIDE)
sigLine(732, 841, 1206.7)
txt(785, 1197, '*', 26)
groupLabels(739, 851, 1452, 1480)

// ---- panel g
txt(942, 1173, 'g', 29, {bold: true})
txt(1144, 1177, WT, 23)
txt(1399, 1177, FL, 23)
flow([1011, 1200, 1243, 1433], g1Rings, g1Gate, g1Dots, xLog, yBiex, true)
flow([1273, 1200, 1504, 1433], g2Rings, g2Gate, g2Dots, xLog, yBiex, false)
txt(1155, 1291, '19.5', 23)
txt(1413, 1291, '18.3', 23)
txt(942, 1391, 'IFN-γ-APC', 22, {rot: true})
arrow(942, 1330, 942, 1200)
txt(1082, 1484, 'Foxp3-AF488', 23)
arrow(1157, 1483, 1509, 1483)
dotPlot([1603, 1212, 1821, 1429], gTicks, gWtX, gWtY, gKoX, gKoY, gMean, gSem, [.52, 2.53])
txt(1520, 1322, 'Percentage of', 21.5, WIDE)
txt(1549, 1322, 'IFN-γ<sup>+</sup> in ' + TCONV + ' cells', 21.5, WIDE)
sigLine(1653, 1763, 1206.7)
txt(1712, 1194, 'NS', 23)
groupLabels(1663, 1774, 1453, 1483)

// ---- panel h
txt(15, 1562, 'h', 29, {bold: true})
txt(129, 1563, 'Gated on Ly5.1<sup>+</sup>', 21.5)
txt(208, 1598, WT, 23)
txt(464, 1598, FL, 23)
flow([82, 1617, 313, 1847], h1Rings, h1Gate, h1Dots, xLog, yBiex, true)
flow([343, 1617, 574, 1847], h2Rings, h2Gate, h2Dots, xLog, yBiex, false)
txt(241, 1707, '6.44', 23)
txt(496, 1707, '13.2', 23)
txt(15, 1790, 'IL-17-BV421', 22, {rot: true})
arrow(13, 1727, 13, 1618)
txt(154, 1904, 'Foxp3-AF488', 23)
arrow(229, 1902, 577, 1902)
dotPlot([679, 1628, 898, 1845], hTicks, hWtX, hWtY, hKoX, hKoY, hMean, hSem)
txt(590, 1736, 'Percentage of', 21.5, WIDE)
txt(619, 1736, 'IL-17<sup>+</sup> in ' + TCONV + ' cells', 21.5, WIDE)
sigLine(732, 841, 1626)
txt(785, 1617, '*', 26)
groupLabels(739, 851, 1868, 1898)

// ---- panel i
txt(942, 1558, 'i', 29, {bold: true})
txt(1132, 1595, WT, 23)
txt(1387, 1595, FL, 23)
flow([1012, 1616, 1246, 1848], i1Rings, i1Gate, i1Dots, xLog, yBiex, true)
flow([1271, 1616, 1505, 1848], i2Rings, i2Gate, i2Dots, xLog, yBiex, false)
txt(1175, 1714, '29.3', 23)
txt(1434, 1714, '30.0', 23)
txt(942, 1807, 'IFN-γ-APC', 22, {rot: true})
arrow(942, 1748, 942, 1616)
txt(1086, 1901, 'Foxp3-AF488', 23)
arrow(1160, 1898, 1509, 1898)
dotPlot([1602, 1628, 1820, 1845], iTicks, iWtX, iWtY, iKoX, iKoY, iMean, iSem, [.52, 2.53])
txt(1520, 1736, 'Percentage of', 21.5, WIDE)
txt(1549, 1737, 'IFN-γ<sup>+</sup> in ' + TCONV + ' cells', 21.5, WIDE)
sigLine(1655, 1764, 1626)
txt(1713, 1612, 'NS', 23)
groupLabels(1666, 1777, 1868, 1897)

// arrows and brackets on top
const over = document.createElementNS('http://www.w3.org/2000/svg', 'svg')
over.setAttribute('width', 1827)
over.setAttribute('height', 1920)
over.innerHTML = svgBits
page.appendChild(over)
</script>
</body>
</html>
